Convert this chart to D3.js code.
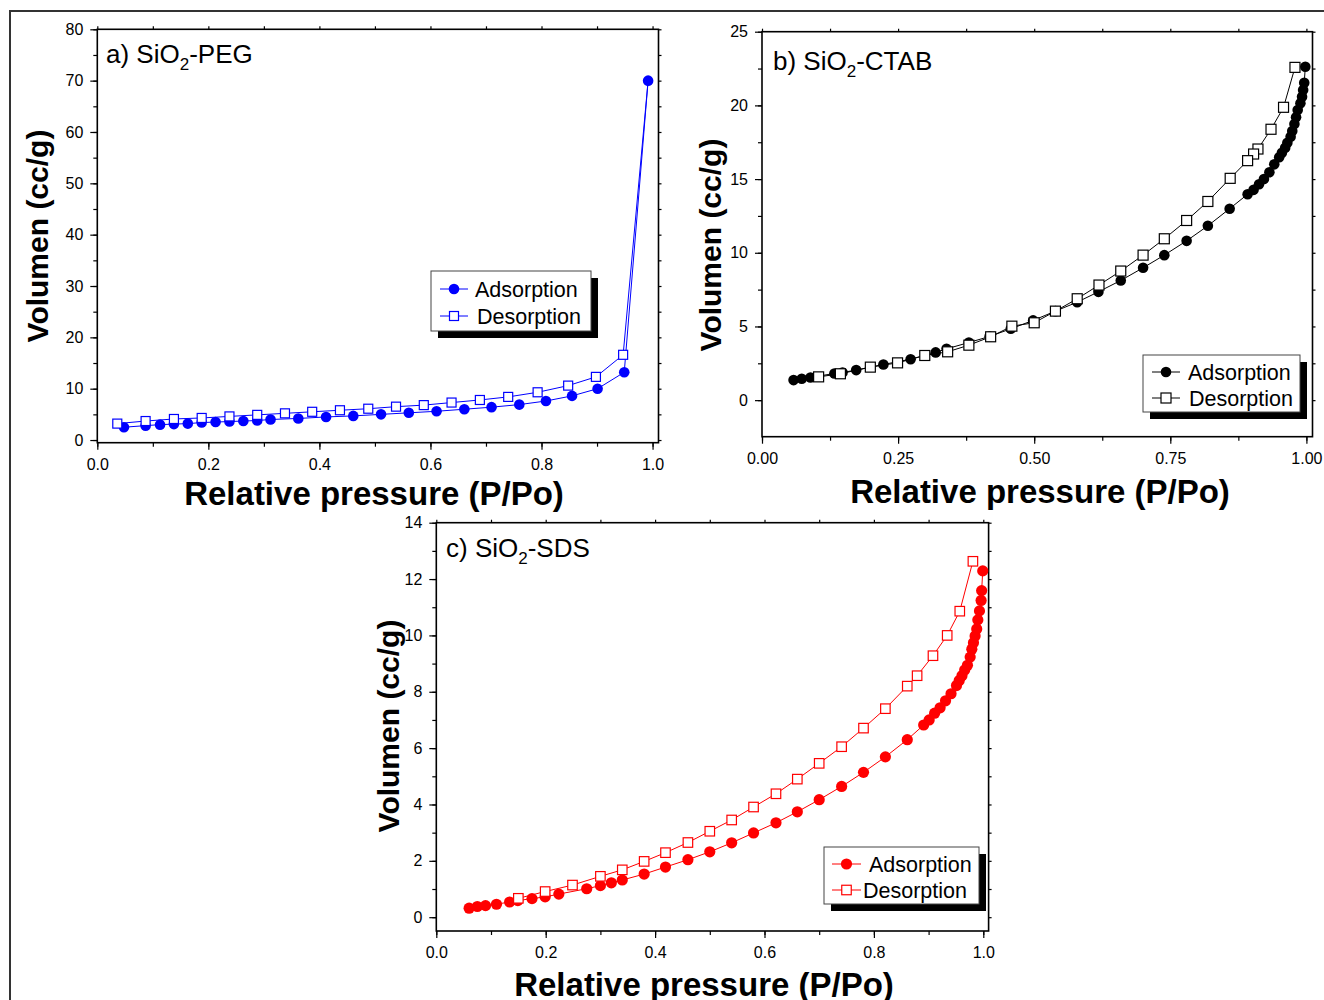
<!DOCTYPE html>
<html>
<head>
<meta charset="utf-8">
<script src="https://cdn.jsdelivr.net/npm/d3@7"></script>
<style>
  body { margin: 0; background: #fff; }
  svg { display: block; font-family: "Liberation Sans", Arial, sans-serif; }
</style>
</head>
<body>
<div id="chart"></div>
<script>
// a) SiO2-PEG
var pegAdsX = [0.048, 0.087, 0.113, 0.138, 0.163, 0.188, 0.213, 0.238, 0.263, 0.288, 0.312, 0.362, 0.412, 0.461, 0.511, 0.561, 0.611, 0.661, 0.710, 0.760, 0.808, 0.855, 0.901, 0.949, 0.992]
var pegAdsY = [2.5, 2.8, 3.0, 3.1, 3.2, 3.4, 3.5, 3.6, 3.7, 3.8, 4.0, 4.2, 4.5, 4.7, 5.0, 5.3, 5.6, 6.0, 6.4, 6.9, 7.6, 8.6, 10.0, 13.2, 70.0]
var pegDesX = [0.992, 0.947, 0.898, 0.848, 0.793, 0.740, 0.689, 0.638, 0.588, 0.538, 0.488, 0.437, 0.387, 0.338, 0.288, 0.238, 0.188, 0.138, 0.087, 0.036]
var pegDesY = [70.0, 16.6, 12.3, 10.6, 9.3, 8.4, 7.8, 7.3, 6.8, 6.5, 6.1, 5.8, 5.5, 5.2, 4.9, 4.6, 4.3, 4.1, 3.7, 3.2]

// b) SiO2-CTAB
var ctabAdsX = [0.058, 0.073, 0.089, 0.133, 0.148, 0.173, 0.223, 0.273, 0.319, 0.339, 0.380, 0.418, 0.457, 0.498, 0.539, 0.579, 0.618, 0.659, 0.700, 0.739, 0.780, 0.819, 0.859,
                0.892, 0.903, 0.913, 0.922, 0.932, 0.941, 0.950, 0.955, 0.961, 0.965, 0.971, 0.974, 0.978, 0.981, 0.984, 0.989, 0.992, 0.994, 0.996, 0.998]
var ctabAdsY = [1.36, 1.45, 1.54, 1.81, 1.88, 2.04, 2.42, 2.78, 3.24, 3.48, 3.91, 4.32, 4.84, 5.41, 6.04, 6.65, 7.35, 8.12, 8.98, 9.84, 10.81, 11.83, 12.99,
                13.97, 14.27, 14.65, 15.01, 15.46, 16.00, 16.48, 16.79, 17.13, 17.47, 17.88, 18.26, 18.73, 19.19, 19.69, 20.14, 20.59, 21.04, 21.54, 22.62]
var ctabDesX = [0.979, 0.958, 0.935, 0.911, 0.903, 0.892, 0.860, 0.819, 0.780, 0.739, 0.700, 0.659, 0.619, 0.579, 0.539, 0.500, 0.459, 0.420, 0.380, 0.341, 0.299, 0.249, 0.199, 0.144, 0.104]
var ctabDesY = [22.58, 19.87, 18.38, 17.04, 16.70, 16.25, 15.05, 13.48, 12.19, 10.95, 9.84, 8.76, 7.81, 6.88, 6.04, 5.25, 5.02, 4.30, 3.73, 3.28, 3.03, 2.53, 2.24, 1.79, 1.58]

// c) SiO2-SDS
var sdsAdsX = [0.060, 0.075, 0.090, 0.110, 0.134, 0.149, 0.175, 0.199, 0.224, 0.275, 0.300, 0.320, 0.340, 0.380, 0.419, 0.460, 0.500, 0.540, 0.580, 0.621, 0.660, 0.700, 0.741, 0.781, 0.821, 0.861,
               0.891, 0.901, 0.911, 0.921, 0.931, 0.941, 0.951, 0.956, 0.961, 0.966, 0.971, 0.976, 0.979, 0.982, 0.985, 0.988, 0.990, 0.993, 0.996, 0.997, 0.999]
var sdsAdsY = [0.32, 0.38, 0.41, 0.46, 0.54, 0.59, 0.66, 0.72, 0.82, 1.01, 1.12, 1.22, 1.32, 1.53, 1.78, 2.04, 2.32, 2.64, 2.99, 3.35, 3.74, 4.17, 4.64, 5.14, 5.69, 6.30,
               6.82, 7.00, 7.24, 7.43, 7.68, 7.93, 8.22, 8.40, 8.57, 8.77, 8.94, 9.23, 9.51, 9.74, 9.98, 10.23, 10.55, 10.87, 11.24, 11.59, 12.29]
var sdsDesX = [0.981, 0.957, 0.934, 0.908, 0.879, 0.861, 0.821, 0.781, 0.741, 0.700, 0.660, 0.621, 0.580, 0.540, 0.500, 0.460, 0.419, 0.380, 0.340, 0.300, 0.249, 0.199, 0.150]
var sdsDesY = [12.63, 10.86, 10.0, 9.28, 8.57, 8.20, 7.40, 6.71, 6.05, 5.46, 4.90, 4.38, 3.91, 3.45, 3.05, 2.65, 2.29, 1.98, 1.68, 1.45, 1.14, 0.91, 0.67]

var legendLabels = ["Adsorption", "Desorption"]
var xTitle = "Relative pressure (P/Po)", yTitle = "Volumen (cc/g)"

var pegXTicks = [0, 0.2, 0.4, 0.6, 0.8, 1.0], pegYTicks = [0, 10, 20, 30, 40, 50, 60, 70, 80]
var ctabXTicks = [0, 0.25, 0.5, 0.75, 1.0], ctabYTicks = [0, 5, 10, 15, 20, 25]
var sdsXTicks = [0, 0.2, 0.4, 0.6, 0.8, 1.0], sdsYTicks = [0, 2, 4, 6, 8, 10, 12, 14]

var width = 1324, height = 1000

var svg = d3.select("#chart").append("svg")
    .attr("width", width)
    .attr("height", height)

// outer frame of the figure
svg.append("rect")
    .attr("x", 10).attr("y", 11)
    .attr("width", 1400).attr("height", 1100)
    .attr("fill", "none")
    .attr("stroke", "#333")
    .attr("stroke-width", 2)

function zip(xs, ys){
    return xs.map(function(v, i){ return [v, ys[i]] })
}

function drawPanel(cfg){
    var x = d3.scaleLinear().domain(cfg.xDomain).range([cfg.left, cfg.right])
    var y = d3.scaleLinear().domain(cfg.yDomain).range([cfg.bottom, cfg.top])
    var g = svg.append("g")

    var xMinor = d3.range(0, 1.0001, cfg.xMinorStep)
    var yMinor = d3.range(cfg.yTicks[0], cfg.yTicks[cfg.yTicks.length - 1] + 1e-6, cfg.yMinorStep)

    // bottom axis
    g.append("g").attr("transform", "translate(0," + cfg.bottom + ")")
        .call(d3.axisBottom(x).tickValues(xMinor).tickFormat("").tickSize(4).tickSizeOuter(0))
    g.append("g").attr("class", "xlab").attr("transform", "translate(0," + cfg.bottom + ")")
        .call(d3.axisBottom(x).tickValues(cfg.xTicks).tickFormat(cfg.xFormat).tickSize(7).tickSizeOuter(0).tickPadding(9))
    // left axis
    g.append("g").attr("transform", "translate(" + cfg.left + ",0)")
        .call(d3.axisLeft(y).tickValues(yMinor).tickFormat("").tickSize(4).tickSizeOuter(0))
    g.append("g").attr("class", "ylab").attr("transform", "translate(" + cfg.left + ",0)")
        .call(d3.axisLeft(y).tickValues(cfg.yTicks).tickFormat(d3.format("d")).tickSize(7).tickSizeOuter(0).tickPadding(7))
    // right / top small ticks
    g.append("g").attr("transform", "translate(" + cfg.right + ",0)")
        .call(d3.axisRight(y).tickValues(yMinor).tickFormat("").tickSize(3).tickSizeOuter(0))
    g.append("g").attr("transform", "translate(0," + cfg.top + ")")
        .call(d3.axisTop(x).tickValues(xMinor).tickFormat("").tickSize(3).tickSizeOuter(0))

    g.selectAll(".domain").remove()
    g.selectAll(".tick line").attr("stroke", "#000").attr("stroke-width", 1.2)
    g.selectAll(".tick text")
        .attr("fill", "#000")
        .style("font-size", "16px")
        .style("font-family", "'Liberation Sans', Arial, sans-serif")

    g.append("rect")
        .attr("x", cfg.left).attr("y", cfg.top)
        .attr("width", cfg.right - cfg.left).attr("height", cfg.bottom - cfg.top)
        .attr("fill", "none")
        .attr("stroke", "#000")
        .attr("stroke-width", 1.6)

    var line = d3.line().x(function(d){ return x(d[0]) }).y(function(d){ return y(d[1]) })
    var ads = zip(cfg.adsX, cfg.adsY), des = zip(cfg.desX, cfg.desY)

    g.append("path").datum(ads).attr("d", line)
        .attr("fill", "none").attr("stroke", cfg.color).attr("stroke-width", 1)
    g.append("path").datum(des).attr("d", line)
        .attr("fill", "none").attr("stroke", cfg.color).attr("stroke-width", 1)

    g.selectAll(".ads").data(ads).enter().append("circle")
        .attr("class", "ads")
        .attr("cx", function(d){ return x(d[0]) })
        .attr("cy", function(d){ return y(d[1]) })
        .attr("r", cfg.r)
        .attr("fill", cfg.color)

    // first desorption point in PEG is the shared top point, no square there
    var desMarks = cfg.skipFirstDes ? des.slice(1) : des
    g.selectAll(".des").data(desMarks).enter().append("rect")
        .attr("class", "des")
        .attr("x", function(d){ return x(d[0]) - cfg.sq / 2 })
        .attr("y", function(d){ return y(d[1]) - cfg.sq / 2 })
        .attr("width", cfg.sq).attr("height", cfg.sq)
        .attr("fill", "#fff")
        .attr("stroke", cfg.color)
        .attr("stroke-width", 1.2)

    // panel title with subscript
    var t = g.append("text")
        .attr("x", cfg.titleX).attr("y", cfg.titleY)
        .style("font-size", "26px").attr("fill", "#000")
    t.append("tspan").text(cfg.titlePre)
    t.append("tspan").text("2").style("font-size", "17px").attr("dy", 7)
    t.append("tspan").text(cfg.titlePost).attr("dy", -7)

    // axis titles
    g.append("text")
        .attr("x", cfg.xTitleX).attr("y", cfg.xTitleY)
        .attr("text-anchor", "middle")
        .style("font-size", "33px").style("font-weight", "bold")
        .text(xTitle)
    g.append("text")
        .attr("transform", "translate(" + cfg.yTitleX + "," + cfg.yTitleY + ") rotate(-90)")
        .attr("text-anchor", "middle")
        .style("font-size", "30px").style("font-weight", "bold")
        .text(yTitle)

    // legend with drop shadow
    var L = cfg.legend
    g.append("rect")
        .attr("x", L.x + 7).attr("y", L.y + 7)
        .attr("width", L.w).attr("height", L.h)
        .attr("fill", "#000")
    g.append("rect")
        .attr("x", L.x).attr("y", L.y)
        .attr("width", L.w).attr("height", L.h)
        .attr("fill", "#fff").attr("stroke", "#444").attr("stroke-width", 1)

    legendLabels.forEach(function(lbl, i){
        var cy = L.rows[i]
        g.append("line")
            .attr("x1", L.lx1).attr("x2", L.lx2).attr("y1", cy).attr("y2", cy)
            .attr("stroke", cfg.color).attr("stroke-width", 1)
        var mx = (L.lx1 + L.lx2) / 2
        if(i === 0){
            g.append("circle").attr("cx", mx).attr("cy", cy).attr("r", cfg.r).attr("fill", cfg.color)
        }else{
            g.append("rect")
                .attr("x", mx - cfg.sq / 2).attr("y", cy - cfg.sq / 2)
                .attr("width", cfg.sq).attr("height", cfg.sq)
                .attr("fill", "#fff").attr("stroke", cfg.color).attr("stroke-width", 1.2)
        }
        g.append("text")
            .attr("x", L.tx[i]).attr("y", cy + 7.5)
            .style("font-size", "21.5px").attr("fill", "#000")
            .text(lbl)
    })
}

drawPanel({
    left: 97.3, right: 658.5, top: 29.3, bottom: 442.7,
    xDomain: [0, 1.0107], yDomain: [-0.52, 80],
    xTicks: pegXTicks, yTicks: pegYTicks, xMinorStep: 0.1, yMinorStep: 5,
    xFormat: d3.format(".1f"),
    adsX: pegAdsX, adsY: pegAdsY, desX: pegDesX, desY: pegDesY, skipFirstDes: true,
    color: "#0000ff", r: 5.3, sq: 9,
    titlePre: "a) SiO", titlePost: "-PEG", titleX: 106, titleY: 63,
    xTitleX: 374, xTitleY: 505, yTitleX: 48, yTitleY: 236,
    legend: { x: 431, y: 271, w: 160, h: 60, rows: [289, 316], lx1: 440, lx2: 468, tx: [475, 477] }
})

drawPanel({
    left: 762, right: 1312.5, top: 31.7, bottom: 436.7,
    xDomain: [0, 1.0112], yDomain: [-2.48, 25],
    xTicks: ctabXTicks, yTicks: ctabYTicks, xMinorStep: 0.125, yMinorStep: 2.5,
    xFormat: d3.format(".2f"),
    adsX: ctabAdsX, adsY: ctabAdsY, desX: ctabDesX, desY: ctabDesY, skipFirstDes: false,
    color: "#000000", r: 5.3, sq: 10,
    titlePre: "b) SiO", titlePost: "-CTAB", titleX: 773, titleY: 70,
    xTitleX: 1040, xTitleY: 503, yTitleX: 721, yTitleY: 245,
    legend: { x: 1143, y: 355, w: 157, h: 57, rows: [372, 398], lx1: 1152, lx2: 1180, tx: [1188, 1189] }
})

drawPanel({
    left: 436.3, right: 988.6, top: 522.7, bottom: 931,
    xDomain: [0, 1.0097], yDomain: [-0.49, 14],
    xTicks: sdsXTicks, yTicks: sdsYTicks, xMinorStep: 0.1, yMinorStep: 1,
    xFormat: d3.format(".1f"),
    adsX: sdsAdsX, adsY: sdsAdsY, desX: sdsDesX, desY: sdsDesY, skipFirstDes: false,
    color: "#ff0000", r: 5.6, sq: 9.5,
    titlePre: "c) SiO", titlePost: "-SDS", titleX: 446, titleY: 557,
    xTitleX: 704, xTitleY: 996, yTitleX: 399, yTitleY: 726,
    legend: { x: 824, y: 847, w: 155, h: 57, rows: [864, 890], lx1: 832, lx2: 861, tx: [869, 863] }
})
</script>
</body>
</html>
